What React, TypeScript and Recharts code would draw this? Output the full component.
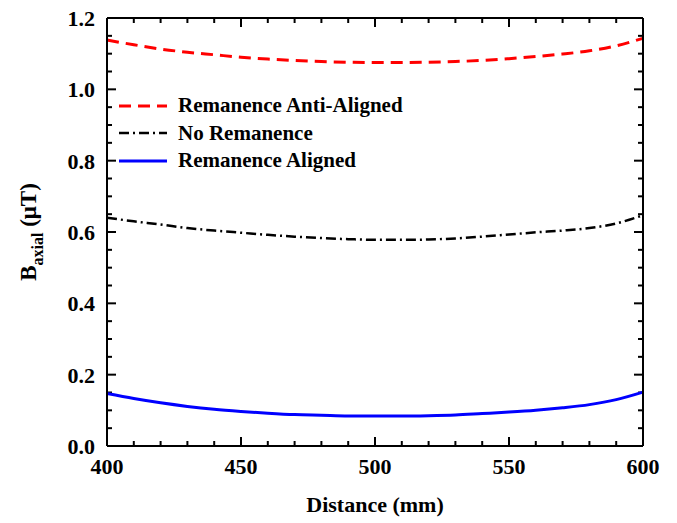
import { LineChart, Line, XAxis, YAxis, Legend, ReferenceLine } from 'recharts'

const distance = [400, 410, 420, 430, 440, 450, 460, 470, 480, 490, 500, 510, 520, 530, 540, 550, 560, 570, 580, 590, 600]
const antiAligned = [1.138, 1.125, 1.113, 1.104, 1.097, 1.09, 1.085, 1.081, 1.078, 1.076, 1.075, 1.075, 1.076, 1.078, 1.081, 1.086, 1.092, 1.099, 1.108, 1.122, 1.143]
const noRemanence = [0.64, 0.63, 0.621, 0.611, 0.604, 0.598, 0.592, 0.587, 0.583, 0.58, 0.578, 0.578, 0.579, 0.582, 0.587, 0.593, 0.599, 0.604, 0.611, 0.624, 0.647]
const aligned = [0.147, 0.133, 0.121, 0.111, 0.103, 0.097, 0.092, 0.088, 0.086, 0.084, 0.084, 0.084, 0.085, 0.087, 0.091, 0.095, 0.1, 0.107, 0.116, 0.13, 0.151]

const xMajor = [400, 450, 500, 550, 600]
const xMinor = [410, 420, 430, 440, 460, 470, 480, 490, 510, 520, 530, 540, 560, 570, 580, 590]
const yMajor = [0, 0.2, 0.4, 0.6, 0.8, 1.0, 1.2]
const yMinor = [0.05, 0.1, 0.15, 0.25, 0.3, 0.35, 0.45, 0.5, 0.55, 0.65, 0.7, 0.75, 0.85, 0.9, 0.95, 1.05, 1.1, 1.15]

const seriesNames = ['Remanence Anti-Aligned', 'No Remanence', 'Remanence Aligned']

const data = distance.map((d, i) => ({
  distance: d,
  anti: antiAligned[i],
  none: noRemanence[i],
  aligned: aligned[i],
}))

const FONT = '"Liberation Serif", "Times New Roman", serif'

// tick lengths in data units (plot is 536 x 428 px)
const X_PER_PX = 200 / 536
const Y_PER_PX = 1.2 / 428
const MAJOR_LEN = 9
const MINOR_LEN = 5

const xTickMarks = [
  ...xMajor.map((v) => ({ v, len: MAJOR_LEN })),
  ...xMinor.map((v) => ({ v, len: MINOR_LEN })),
]
const yTickMarks = [
  ...yMajor.map((v) => ({ v, len: MAJOR_LEN })),
  ...yMinor.map((v) => ({ v, len: MINOR_LEN })),
]

const XLabel = (props: any) => {
  const { x, y, payload } = props
  return (
    <text x={x} y={y + 28} textAnchor="middle" fontFamily={FONT} fontWeight="bold" fontSize={22} fill="#000">
      {payload.value}
    </text>
  )
}

const YLabel = (props: any) => {
  const { x, y, payload } = props
  return (
    <text x={x - 12} y={y + 8} textAnchor="end" fontFamily={FONT} fontWeight="bold" fontSize={22} fill="#000">
      {payload.value.toFixed(1)}
    </text>
  )
}

const legendStyles = [
  { color: '#ff0000', dash: '12 7', width: 3 },
  { color: '#000000', dash: '10 4 2 4', width: 2.5 },
  { color: '#0000ff', dash: undefined, width: 3 },
]

const CustomLegend = () => (
  <div style={{ fontFamily: FONT, fontWeight: 'bold', fontSize: 21 }}>
    {seriesNames.map((name, i) => (
      <div key={name} style={{ display: 'flex', alignItems: 'center', height: 27.5 }}>
        <svg width={59} height={10}>
          <line
            x1={0}
            x2={48}
            y1={5}
            y2={5}
            stroke={legendStyles[i].color}
            strokeWidth={legendStyles[i].width}
            strokeDasharray={legendStyles[i].dash}
          />
        </svg>
        <span>{name}</span>
      </div>
    ))}
  </div>
)

export default function App() {
  return (
    <div style={{ width: 677, height: 523 }}>
      <style>{'body{margin:0}'}</style>
      <LineChart width={677} height={523} data={data} margin={{ top: 17, right: 33, bottom: 0, left: 0 }}>
        <XAxis
          dataKey="distance"
          type="number"
          domain={[400, 600]}
          ticks={xMajor}
          interval={0}
          height={77}
          tickSize={0}
          tickMargin={0}
          tickLine={false}
          axisLine={{ stroke: '#000', strokeWidth: 2 }}
          tick={XLabel}
          label={{
            content: () => (
              <text x={375} y={512} textAnchor="middle" fontFamily={FONT} fontWeight="bold" fontSize={22} fill="#000">
                Distance (mm)
              </text>
            ),
          }}
        />
        <XAxis
          xAxisId="top"
          orientation="top"
          type="number"
          domain={[400, 600]}
          ticks={xMajor}
          height={1}
          tickLine={false}
          tick={false}
          axisLine={{ stroke: '#000', strokeWidth: 2 }}
        />
        <YAxis
          type="number"
          domain={[0, 1.2]}
          ticks={yMajor}
          interval={0}
          width={107}
          tickSize={0}
          tickMargin={0}
          tickLine={false}
          axisLine={{ stroke: '#000', strokeWidth: 2 }}
          tick={YLabel}
          label={{
            content: () => (
              <text
                transform="translate(36 232) rotate(-90)"
                textAnchor="middle"
                fontFamily={FONT}
                fontWeight="bold"
                fontSize={23}
                fill="#000"
              >
                B
                <tspan fontSize={16} dy={7}>axial</tspan>
                <tspan dy={-7}> (μT)</tspan>
              </text>
            ),
          }}
        />
        <YAxis
          yAxisId="right"
          orientation="right"
          type="number"
          domain={[0, 1.2]}
          ticks={yMajor}
          width={1}
          tickLine={false}
          tick={false}
          axisLine={{ stroke: '#000', strokeWidth: 2 }}
        />
        {xTickMarks.map((t) => (
          <ReferenceLine
            key={`xb${t.v}`}
            segment={[{ x: t.v, y: 0 }, { x: t.v, y: t.len * Y_PER_PX }]}
            stroke="#000"
            strokeWidth={2}
            ifOverflow="visible"
          />
        ))}
        {xTickMarks.map((t) => (
          <ReferenceLine
            key={`xt${t.v}`}
            segment={[{ x: t.v, y: 1.2 }, { x: t.v, y: 1.2 - t.len * Y_PER_PX }]}
            stroke="#000"
            strokeWidth={2}
            ifOverflow="visible"
          />
        ))}
        {yTickMarks.map((t) => (
          <ReferenceLine
            key={`yl${t.v}`}
            segment={[{ x: 400, y: t.v }, { x: 400 + t.len * X_PER_PX, y: t.v }]}
            stroke="#000"
            strokeWidth={2}
            ifOverflow="visible"
          />
        ))}
        {yTickMarks.map((t) => (
          <ReferenceLine
            key={`yr${t.v}`}
            segment={[{ x: 600, y: t.v }, { x: 600 - t.len * X_PER_PX, y: t.v }]}
            stroke="#000"
            strokeWidth={2}
            ifOverflow="visible"
          />
        ))}
        <Legend
          content={<CustomLegend />}
          layout="horizontal"
          verticalAlign="middle"
          align="center"
          wrapperStyle={{ position: 'absolute', left: 119, top: 92, width: 340 }}
        />
        <Line
          type="monotone"
          dataKey="anti"
          name={seriesNames[0]}
          stroke="#ff0000"
          strokeWidth={3}
          strokeDasharray="12 7"
          dot={false}
          isAnimationActive={false}
        />
        <Line
          type="monotone"
          dataKey="none"
          name={seriesNames[1]}
          stroke="#000000"
          strokeWidth={2.5}
          strokeDasharray="10 4 2 4"
          dot={false}
          isAnimationActive={false}
        />
        <Line
          type="monotone"
          dataKey="aligned"
          name={seriesNames[2]}
          stroke="#0000ff"
          strokeWidth={3}
          dot={false}
          isAnimationActive={false}
        />
      </LineChart>
    </div>
  )
}
